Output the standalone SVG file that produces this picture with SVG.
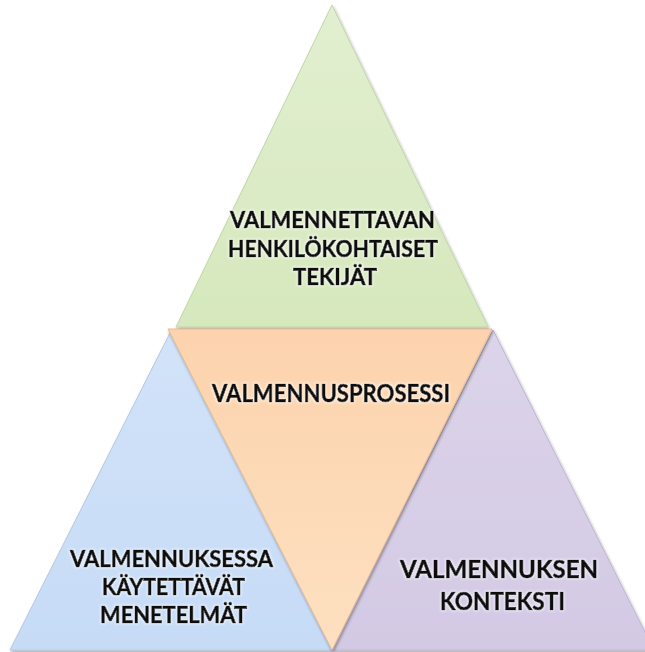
<svg xmlns="http://www.w3.org/2000/svg" width="645" height="652" viewBox="0 0 645 652">
<defs>
<filter id="sh" x="-10%" y="-10%" width="120%" height="120%">
<feDropShadow dx="1" dy="2" stdDeviation="1.5" flood-color="#000" flood-opacity="0.35"/>
</filter>
<filter id="glow" x="-5%" y="-30%" width="110%" height="160%">
<feMorphology in="SourceAlpha" operator="dilate" radius="1" result="d"/>
<feGaussianBlur in="d" stdDeviation="1" result="b"/>
<feFlood flood-color="#ffffff" flood-opacity="0.6"/>
<feComposite in2="b" operator="in" result="g"/>
<feMerge><feMergeNode in="g"/><feMergeNode in="SourceGraphic"/></feMerge>
</filter>
<linearGradient id="gG" x1="0" y1="0" x2="0" y2="1"><stop offset="0" stop-color="#e2efd0"/><stop offset="1" stop-color="#d6e8bd"/></linearGradient>
<linearGradient id="gO" x1="0" y1="0" x2="0" y2="1"><stop offset="0" stop-color="#fcd3ad"/><stop offset="1" stop-color="#fde0c0"/></linearGradient>
<linearGradient id="gB" x1="0" y1="0" x2="0" y2="1"><stop offset="0" stop-color="#d2e3f9"/><stop offset="1" stop-color="#c6dbf6"/></linearGradient>
<linearGradient id="gP" x1="0" y1="0" x2="0" y2="1"><stop offset="0" stop-color="#dcd4ea"/><stop offset="1" stop-color="#d3c9e4"/></linearGradient>
<style>
.tri{stroke-width:1;stroke-linejoin:round;filter:url(#sh)}
.lbl{font-family:Lato,"Liberation Sans",sans-serif;font-weight:bold;fill:#111;text-anchor:middle;stroke:#111;stroke-width:0.7;filter:url(#glow)}
</style>
</defs>
<g id="connectors"/>
<g id="node-blue">
<polygon class="tri" points="171,331 332,650 10,650" fill="url(#gB)" stroke="#b4c8e2"/>
<text class="lbl" font-size="23" x="171.5" y="567" textLength="203" lengthAdjust="spacingAndGlyphs">VALMENNUKSESSA</text>
<text class="lbl" font-size="23" x="173.5" y="595" textLength="143" lengthAdjust="spacingAndGlyphs">KÄYTETTÄVÄT</text>
<text class="lbl" font-size="23" x="173.5" y="623" textLength="147" lengthAdjust="spacingAndGlyphs">MENETELMÄT</text>
</g>
<g id="node-purple">
<polygon class="tri" points="493,330 654,650 332,650" fill="url(#gP)" stroke="#c0b5d6"/>
<text class="lbl" font-size="24" x="499" y="578" textLength="198" lengthAdjust="spacingAndGlyphs">VALMENNUKSEN</text>
<text class="lbl" font-size="24" x="502.5" y="610" textLength="125" lengthAdjust="spacingAndGlyphs">KONTEKSTI</text>
</g>
<g id="node-green">
<polygon class="tri" points="332,5 488,327 176,327" fill="url(#gG)" stroke="#c2d6a6"/>
<text class="lbl" font-size="23" x="332.5" y="228" textLength="205" lengthAdjust="spacingAndGlyphs">VALMENNETTAVAN</text>
<text class="lbl" font-size="23" x="333" y="257" textLength="210" lengthAdjust="spacingAndGlyphs">HENKILÖKOHTAISET</text>
<text class="lbl" font-size="23" x="335" y="285" textLength="84" lengthAdjust="spacingAndGlyphs">TEKIJÄT</text>
</g>
<g id="node-orange">
<polygon class="tri" points="168,329 492,329 332,650" fill="url(#gO)" stroke="#e6bb94"/>
<text class="lbl" font-size="24" x="331" y="402" textLength="238" lengthAdjust="spacingAndGlyphs">VALMENNUSPROSESSI</text>
</g>
</svg>
